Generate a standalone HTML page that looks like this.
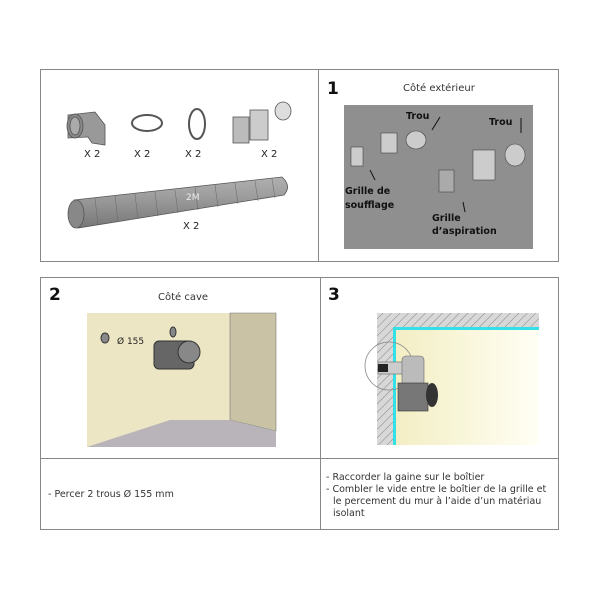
<!DOCTYPE html>
<html><head><meta charset="utf-8"><style>
body{margin:0;background:#fff;width:600px;height:600px;overflow:hidden}
svg{display:block}
text{font-family:"DejaVu Sans","Liberation Sans",sans-serif}
</style></head><body>
<svg width="600" height="600" viewBox="0 0 600 600">
<defs>
<pattern id="h" width="6" height="6" patternUnits="userSpaceOnUse" patternTransform="rotate(45)"><rect width="6" height="6" fill="#d8d8d8"/><line x1="0" y1="0" x2="0" y2="6" stroke="#888" stroke-width="1"/></pattern>
<linearGradient id="y" x1="0" x2="1"><stop offset="0" stop-color="#f3eec4"/><stop offset="1" stop-color="#fffff4"/></linearGradient>
<linearGradient id="tube" x1="0" y1="0" x2="0" y2="1"><stop offset="0" stop-color="#b0b0b0"/><stop offset=".4" stop-color="#9c9c9c"/><stop offset="1" stop-color="#777"/></linearGradient>
</defs>
<g fill="none" stroke="#888" stroke-width="1">
<rect x="40.5" y="69.5" width="518" height="192"/>
<line x1="318.5" y1="69" x2="318.5" y2="262"/>
<rect x="40.5" y="277.5" width="518" height="252"/>
<line x1="320.5" y1="277" x2="320.5" y2="530"/>
<line x1="40" y1="458.5" x2="559" y2="458.5"/>
</g>
<!-- parts -->
<g stroke="#555" stroke-width="0.8">
<path d="M68 115 L95 112 L105 125 L105 145 L92 143 L88 137 L68 138 Z" fill="#999"/>
<ellipse cx="75" cy="126" rx="8" ry="12" fill="#888"/>
<ellipse cx="75" cy="126" rx="5" ry="9" fill="#aaa"/>
<ellipse cx="147" cy="123" rx="15" ry="8" fill="none" stroke-width="2"/>
<ellipse cx="197" cy="124" rx="8" ry="15" fill="none" stroke-width="2"/>
<rect x="233" y="117" width="16" height="26" fill="#bbb"/>
<rect x="250" y="110" width="18" height="30" fill="#ccc"/>
<ellipse cx="283" cy="111" rx="8" ry="9" fill="#ddd"/>
<path d="M74 200 L282 177 Q292 186 284 195 L78 228 Z" fill="url(#tube)"/>
<ellipse cx="76" cy="214" rx="8" ry="14" fill="#888"/>
</g>
<g stroke="#666" stroke-width=".5">
<line x1="95" y1="198" x2="98" y2="225"/><line x1="115" y1="196" x2="118" y2="222"/><line x1="135" y1="194" x2="138" y2="219"/><line x1="155" y1="192" x2="158" y2="216"/><line x1="175" y1="190" x2="178" y2="213"/><line x1="195" y1="187" x2="198" y2="210"/><line x1="215" y1="185" x2="218" y2="207"/><line x1="235" y1="183" x2="238" y2="204"/><line x1="255" y1="181" x2="258" y2="201"/><line x1="272" y1="179" x2="275" y2="198"/>
</g>
<g font-size="10" fill="#222">
<text x="84" y="157">X 2</text><text x="134" y="157">X 2</text><text x="185" y="157">X 2</text><text x="261" y="157">X 2</text><text x="183" y="229">X 2</text>
</g>
<text x="186" y="200" font-size="9" fill="#eee">2M</text>
<!-- panel 1 -->
<text x="327" y="94" font-size="17" font-weight="bold" fill="#111">1</text>
<text x="403" y="91" font-size="10" fill="#333">Côté extérieur</text>
<rect x="344" y="105" width="189" height="144" fill="#8f8f8f"/>
<g stroke="#444" stroke-width=".6" fill="#ccc">
<rect x="351" y="147" width="12" height="19"/>
<rect x="381" y="133" width="16" height="20"/>
<ellipse cx="416" cy="140" rx="10" ry="9"/>
<rect x="473" y="150" width="22" height="30"/>
<ellipse cx="515" cy="155" rx="10" ry="11"/>
<rect x="439" y="170" width="15" height="22" fill="#aaa"/>
</g>
<g font-size="9.5" font-weight="bold" fill="#111">
<text x="406" y="119">Trou</text><text x="489" y="125">Trou</text>
<text x="345" y="194">Grille de</text><text x="345" y="208">soufflage</text>
<text x="432" y="221">Grille</text><text x="432" y="234">d’aspiration</text>
</g>
<g stroke="#111" stroke-width="1"><line x1="440" y1="117" x2="432" y2="130"/><line x1="521" y1="118" x2="521" y2="133"/><line x1="375" y1="180" x2="370" y2="170"/><line x1="465" y1="212" x2="463" y2="202"/></g>
<!-- panel 2 -->
<text x="49" y="300" font-size="17" font-weight="bold" fill="#111">2</text>
<text x="158" y="300" font-size="10" fill="#333">Côté cave</text>
<rect x="87" y="313" width="189" height="134" fill="#ece6c4"/>
<polygon points="230,313 276,313 276,431 230,420" fill="#c9c2a4" stroke="#777" stroke-width=".6"/>
<polygon points="87,447 170,420 230,420 276,431 276,447" fill="#b8b4ba"/>
<rect x="154" y="341" width="40" height="28" rx="5" fill="#666" stroke="#333"/>
<circle cx="189" cy="352" r="11" fill="#888" stroke="#333"/>
<ellipse cx="105" cy="338" rx="4" ry="5" fill="#888" stroke="#333"/>
<ellipse cx="173" cy="332" rx="3" ry="5" fill="#888" stroke="#333"/>
<text x="117" y="344" font-size="9" fill="#222">Ø 155</text>
<!-- panel 3 -->
<text x="328" y="300" font-size="17" font-weight="bold" fill="#111">3</text>
<rect x="377" y="313" width="162" height="132" fill="url(#h)"/>
<rect x="393" y="327" width="146" height="118" fill="#33e0e8"/>
<rect x="396" y="330" width="143" height="115" fill="url(#y)"/>
<circle cx="389" cy="366" r="24" fill="none" stroke="#888" stroke-width=".8"/>
<rect x="378" y="362" width="40" height="12" fill="#ccc" stroke="#666" stroke-width=".6"/>
<rect x="378" y="364" width="10" height="8" fill="#222"/>
<rect x="402" y="356" width="22" height="30" rx="4" fill="#bbb" stroke="#666" stroke-width=".6"/>
<rect x="398" y="383" width="30" height="28" fill="#777" stroke="#333" stroke-width=".6"/>
<ellipse cx="432" cy="395" rx="6" ry="12" fill="#333"/>
<!-- text rows -->
<text x="48" y="497" font-size="9.5" fill="#333">- Percer 2 trous Ø 155 mm</text>
<g font-size="9.5" fill="#333">
<text x="326" y="480">- Raccorder la gaine sur le boîtier</text>
<text x="326" y="492">- Combler le vide entre le boîtier de la grille et</text>
<text x="333" y="504">le percement du mur à l’aide d’un matériau</text>
<text x="333" y="516">isolant</text>
</g>
</svg>
</body></html>
